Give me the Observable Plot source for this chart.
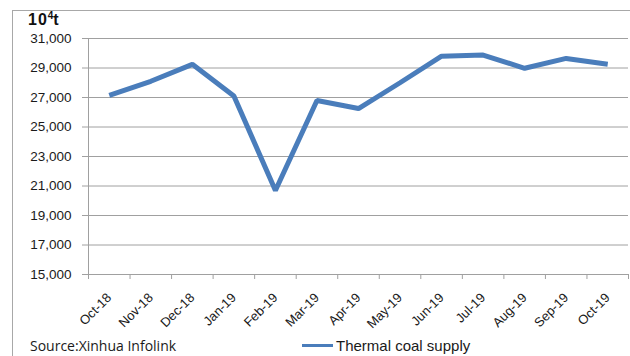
<!DOCTYPE html>
<html>
<head>
<meta charset="utf-8">
<script src="https://cdn.jsdelivr.net/npm/d3@7"></script>
<script src="https://cdn.jsdelivr.net/npm/@observablehq/plot@0.6"></script>
<style>
  body { margin: 0; background: #fff; }
  #wrap { position: relative; width: 630px; height: 356px; overflow: hidden; font-family: "Liberation Sans", Arial, sans-serif; }
  #frame { position: absolute; left: 12px; top: 10px; width: 700px; height: 400px; border: 1px solid #a8a8a8; box-sizing: border-box; }
  #unit { position: absolute; left: 28px; top: 10px; font: bold 16px "Liberation Sans", Arial, sans-serif; color: #111; letter-spacing: 1px; }
  #unit sup { font-size: 10px; vertical-align: 6px; letter-spacing: 0; }
  #chart { position: absolute; left: 0; top: 0; }
  #foot { position: absolute; left: 0; top: 332px; width: 630px; height: 24px; }
  #source { position: absolute; left: 30px; top: 4px; font: 14px "Open Sans", sans-serif; line-height: 19px; color: #1a1a1a; }
  #key { position: absolute; left: 302px; top: 5px; font: 15px "Liberation Sans", Arial, sans-serif; color: #1a1a1a; display: flex; align-items: center; }
  #key span.sw { display: inline-block; width: 31px; height: 3px; background: #4a7dbb; margin-right: 3px; }
</style>
</head>
<body>
<div id="wrap">
  <div id="frame"></div>
  <div id="chart"></div>
  <div id="unit">10<sup>4</sup>t</div>
  <div id="foot">
    <div id="source">Source:Xinhua Infolink</div>
    <div id="key"><span class="sw"></span>Thermal coal supply</div>
  </div>
</div>
<script>
// Monthly thermal coal supply, 10^4 tonnes
const months = ["Oct-18", "Nov-18", "Dec-18", "Jan-19", "Feb-19", "Mar-19", "Apr-19",
                "May-19", "Jun-19", "Jul-19", "Aug-19", "Sep-19", "Oct-19"];
const supply = [27150, 28100, 29250, 27100, 20700, 26800, 26250,
                28000, 29800, 29880, 28980, 29650, 29250];
const yTicks = [15000, 17000, 19000, 21000, 23000, 25000, 27000, 29000, 31000];

const data = months.map((m, i) => ({i, month: m, value: supply[i]}));
const centers = months.map((_, i) => i);
const edges = d3.range(months.length + 1).map(i => i - 0.5);
const grid = "#a0a0a0";

const chart = Plot.plot({
  width: 630,
  height: 332,
  marginLeft: 88,
  marginRight: 2,
  marginTop: 38,
  marginBottom: 58,
  style: {fontFamily: "Liberation Sans, Arial, sans-serif", fontSize: "13px", color: "#1a1a1a", background: "transparent"},
  x: {type: "linear", domain: [-0.5, months.length - 0.5]},
  y: {domain: [15000, 31000]},
  marks: [
    Plot.ruleY(yTicks, {stroke: grid, strokeWidth: 1}),
    Plot.ruleX([-0.5], {stroke: grid, strokeWidth: 1}),
    Plot.axisY({ticks: yTicks, tickFormat: d3.format(","), tickSize: 6, tickPadding: 11, stroke: grid, label: null, fontSize: 13.5}),
    Plot.axisX({ticks: edges, tickFormat: () => "", tickSize: 5, stroke: grid, label: null}),
    Plot.axisX({ticks: centers, tickFormat: i => months[i], tickSize: 0, tickPadding: 21, tickRotate: -45, label: null, fontSize: 13}),
    Plot.line(data, {x: "i", y: "value", stroke: "#4a7dbb", strokeWidth: 5, strokeLinejoin: "miter", strokeLinecap: "butt"})
  ]
});
document.getElementById("chart").appendChild(chart);
</script>
</body>
</html>
